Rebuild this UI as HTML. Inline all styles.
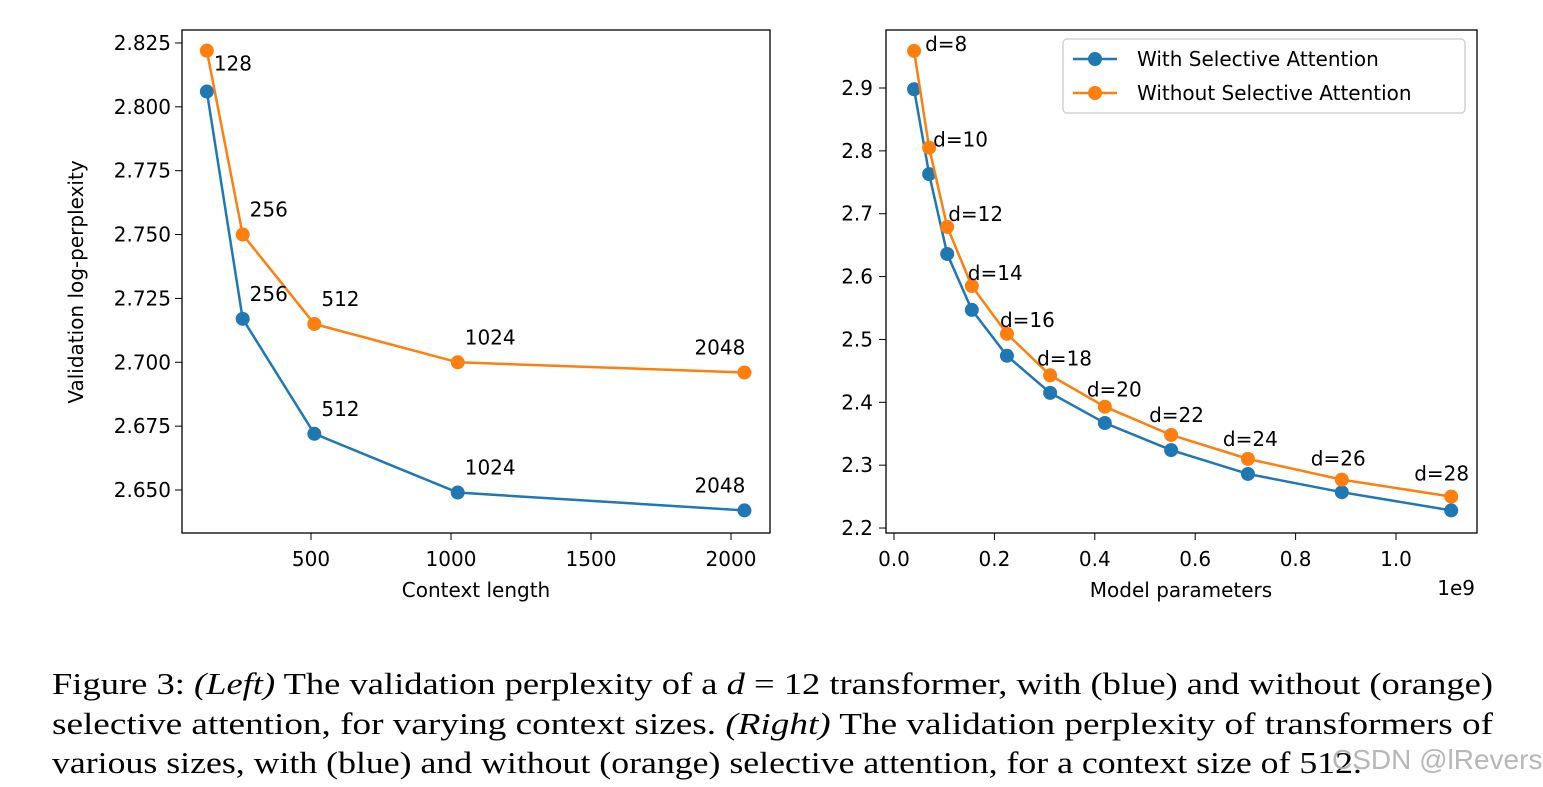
<!DOCTYPE html>
<html><head><meta charset="utf-8"><style>
body{margin:0;background:#fff;width:1543px;height:787px;overflow:hidden;position:relative}
svg text{font-family:"DejaVu Sans","Liberation Sans",sans-serif}
#cap{position:absolute;left:52px;top:664px;width:1441px;font-family:"Liberation Serif",serif;font-size:31px;line-height:39.5px;color:#000}
#cap div{white-space:nowrap;height:39.5px}
#cap span{display:inline-block;transform-origin:0 0}
#wm{position:absolute;left:1332px;top:744px;font-family:"Liberation Sans",sans-serif;font-size:28px;color:rgba(170,170,170,.85)}
</style></head><body>
<svg id="chart" width="1543" height="650" xmlns="http://www.w3.org/2000/svg"></svg>
<div id="cap">
<div><span data-w="1441">Figure 3: <i>(Left)</i> The validation perplexity of a <i>d</i> = 12 transformer, with (blue) and without (orange)</span></div>
<div><span data-w="1441">selective attention, for varying context sizes. <i>(Right)</i> The validation perplexity of transformers of</span></div>
<div><span data-w="1310">various sizes, with (blue) and without (orange) selective attention, for a context size of 512.</span></div>
</div>
<div id="wm">CSDN @lRevers</div>
<script>
const ctxLen=[128,256,512,1024,2048];
const leftBlue=[2.806,2.717,2.672,2.649,2.642];
const leftOrange=[2.822,2.750,2.715,2.700,2.696];
const leftXTicks=[500,1000,1500,2000];
const leftYTicks=[2.650,2.675,2.700,2.725,2.750,2.775,2.800,2.825];
const depthLabels=["d=8","d=10","d=12","d=14","d=16","d=18","d=20","d=22","d=24","d=26","d=28"];
const params=[0.040,0.070,0.106,0.155,0.225,0.311,0.420,0.552,0.705,0.892,1.110];
const rightBlue=[2.898,2.763,2.636,2.547,2.474,2.415,2.367,2.324,2.286,2.257,2.228];
const rightOrange=[2.959,2.805,2.679,2.585,2.509,2.443,2.393,2.348,2.310,2.277,2.250];
const rightXTicks=[0.0,0.2,0.4,0.6,0.8,1.0];
const rightYTicks=[2.2,2.3,2.4,2.5,2.6,2.7,2.8,2.9];
const B="#1f77b4",O="#ff7f0e";
const svg=document.getElementById('chart');
const NS="http://www.w3.org/2000/svg";
function el(t,a,txt){const e=document.createElementNS(NS,t);for(const k in a)e.setAttribute(k,a[k]);if(txt!=null)e.textContent=txt;svg.appendChild(e);return e;}
const lx=v=>171+v*0.28, ly=v=>490-(v-2.65)/0.025*63.86;
const rx=v=>894+v*502, ry=v=>88+(2.9-v)*628.6;
function frame(x0,y0,x1,y1,name){const r=el('rect',{x:x0,y:y0,width:x1-x0,height:y1-y0,fill:'none',stroke:'#000','stroke-width':1.3});}
frame(182,30,770,533,'left-plot-frame');frame(886,30,1477,533,'right-plot-frame');
leftXTicks.forEach(t=>{const x=lx(t);const l=el('line',{x1:x,x2:x,y1:533,y2:540,stroke:'#000'});const s=el('text',{x:x,y:566,'font-size':20,'text-anchor':'middle'},String(t));});
leftYTicks.forEach(t=>{const y=ly(t);const l=el('line',{x1:175,x2:182,y1:y,y2:y,stroke:'#000'});const s=el('text',{x:171,y:y+7,'font-size':20,'text-anchor':'end'},t.toFixed(3));});
rightXTicks.forEach(t=>{const x=rx(t);const l=el('line',{x1:x,x2:x,y1:533,y2:540,stroke:'#000'});const s=el('text',{x:x,y:566,'font-size':20,'text-anchor':'middle'},t.toFixed(1));});
rightYTicks.forEach(t=>{const y=ry(t);const l=el('line',{x1:879,x2:886,y1:y,y2:y,stroke:'#000'});const s=el('text',{x:873,y:y+7,'font-size':20,'text-anchor':'end'},t.toFixed(1));});
let a;
a=el('text',{x:476,y:597,'font-size':20,'text-anchor':'middle'},'Context length');
a=el('text',{x:0,y:0,'font-size':20,'text-anchor':'middle',transform:'translate(83,282) rotate(-90)'},'Validation log-perplexity');
a=el('text',{x:1181,y:597,'font-size':20,'text-anchor':'middle'},'Model parameters');
a=el('text',{x:1475,y:595,'font-size':20,'text-anchor':'end'},'1e9');
function series(xs,ys,fx,fy,c,name){const p=el('polyline',{points:xs.map((x,i)=>fx(x)+','+fy(ys[i])).join(' '),fill:'none',stroke:c,'stroke-width':2.5});
xs.forEach((x,i)=>{const m=el('circle',{cx:fx(x),cy:fy(ys[i]),r:7,fill:c});});}
series(ctxLen,leftBlue,lx,ly,B,'left-with-selective');
series(ctxLen,leftOrange,lx,ly,O,'left-without-selective');
series(params,rightBlue,rx,ry,B,'right-with-selective');
series(params,rightOrange,rx,ry,O,'right-without-selective');
ctxLen.forEach((c,i)=>{
 if(i===0){a=el('text',{x:lx(c)+7,y:ly(leftOrange[i])+20,'font-size':20},String(c));return;}
 const dx=i===4?-50:7;
 a=el('text',{x:lx(c)+dx,y:ly(leftOrange[i])-18,'font-size':20},String(c));
 a=el('text',{x:lx(c)+dx,y:ly(leftBlue[i])-18,'font-size':20},String(c));
});
const ldx=[11,4,1,-4,-7,-13,-18,-22,-25,-31,-37];
const ldy=[0,-1,-6,-6,-7,-10,-10,-13,-13,-14,-16];
params.forEach((p,i)=>{
 a=el('text',{x:rx(p)+ldx[i],y:ry(rightOrange[i])+ldy[i],'font-size':20},depthLabels[i]);});
a=el('rect',{x:1063,y:39,width:402,height:74,rx:4,fill:'#fff',stroke:'#ccc','stroke-width':1.3});
[[B,'With Selective Attention',59],[O,'Without Selective Attention',93]].forEach(([c,t,y])=>{
 a=el('line',{x1:1073,x2:1117,y1:y,y2:y,stroke:c,'stroke-width':2.5});
 a=el('circle',{cx:1095,cy:y,r:7,fill:c});
 a=el('text',{x:1137,y:y+7,'font-size':20},t);});
document.querySelectorAll('#cap span').forEach(s=>{const w=s.getBoundingClientRect().width;s.style.transform='scaleX('+(+s.dataset.w/w)+')';});
</script>
</body></html>
